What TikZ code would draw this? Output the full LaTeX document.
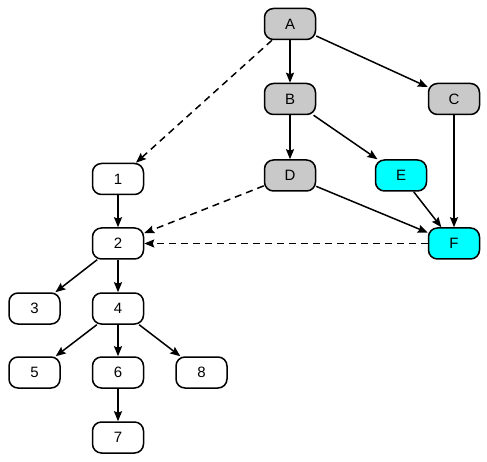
\documentclass[tikz,border=0pt]{standalone}
\usepackage{fontspec}
\setmainfont{Liberation Sans}
\usetikzlibrary{arrows.meta}
\definecolor{brightcyan}{RGB}{0,255,255}
\begin{document}
\begin{tikzpicture}[x=1pt, y=-1pt,
    every node/.style={font=\fontsize{15}{17}\selectfont},
    vert/.style={draw, line width=1.5pt, rounded corners=9pt, minimum width=51pt, minimum height=31pt, inner sep=0pt},
    grey/.style={vert, fill=black!21},
    cyanv/.style={vert, fill=brightcyan},
    edge/.style={line width=1.5pt, -{Stealth[length=10pt, width=8pt, inset=1.5pt]}},
    dedge/.style={edge, dash pattern=on 7pt off 5pt}]
    \useasboundingbox (0,0) rectangle (487,462);
    \node[grey] (A) at (290,24) {A};
    \node[grey] (B) at (290,99) {B};
    \node[grey] (C) at (454,99) {C};
    \node[grey] (D) at (290,175.5) {D};
    \node[cyanv] (E) at (401,175.5) {E};
    \node[cyanv] (F) at (454,243.5) {F};
    \node[vert] (n1) at (118,179) {1};
    \node[vert] (n2) at (118,243.5) {2};
    \node[vert] (n3) at (34.5,308.5) {3};
    \node[vert] (n4) at (118,308.5) {4};
    \node[vert] (n5) at (34.5,372.5) {5};
    \node[vert] (n6) at (118,372.5) {6};
    \node[vert] (n8) at (201.5,372.5) {8};
    \node[vert] (n7) at (118,437.5) {7};
    \draw[edge] (A) -- (B);
    \draw[edge] (A) -- (C);
    \draw[dedge] (A) -- (n1);
    \draw[edge] (B) -- (D);
    \draw[edge] (B) -- (E);
    \draw[edge] (C) -- (F);
    \draw[edge] (D) -- (F);
    \draw[edge] (E) -- (F);
    \draw[dedge] (D) -- (n2);
    \draw[dedge] (F) -- (n2);
    \draw[edge] (n1) -- (n2);
    \draw[edge] (n2) -- (n3);
    \draw[edge] (n2) -- (n4);
    \draw[edge] (n4) -- (n5);
    \draw[edge] (n4) -- (n6);
    \draw[edge] (n4) -- (n8);
    \draw[edge] (n6) -- (n7);
\end{tikzpicture}
\end{document}
